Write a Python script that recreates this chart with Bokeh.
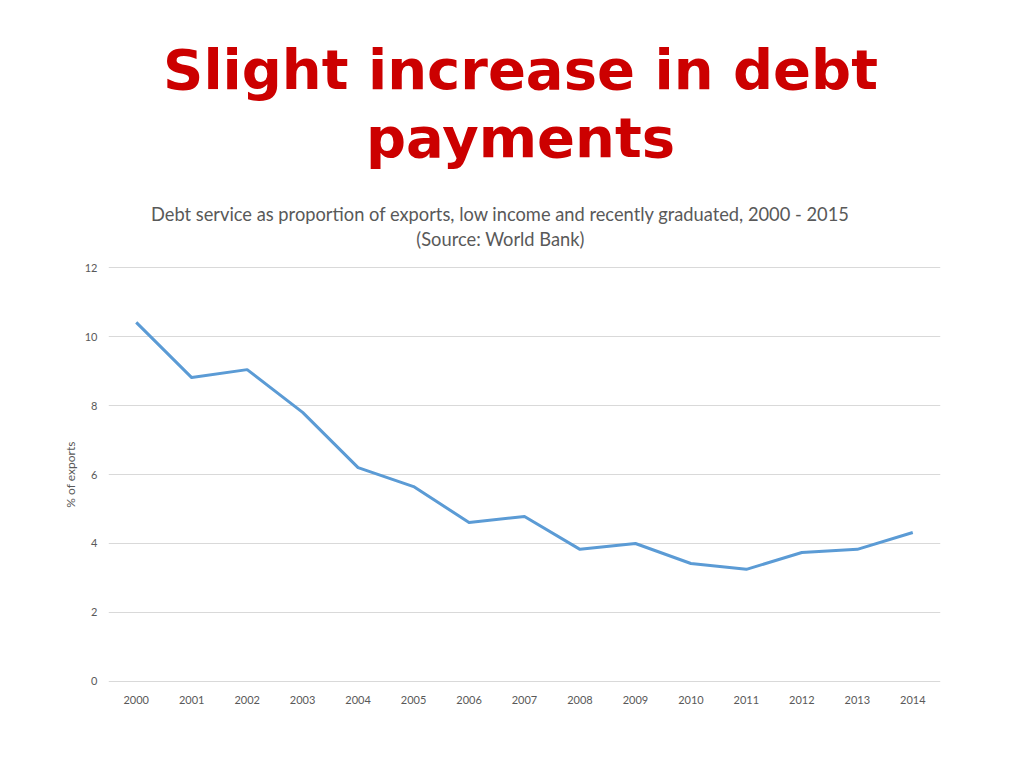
from bokeh.plotting import figure
from bokeh.models import FactorRange, Range1d, FixedTicker
from bokeh.layouts import column
from bokeh.core.properties import value
from bokeh.embed import file_html
from bokeh.resources import INLINE

years = ["2000", "2001", "2002", "2003", "2004", "2005", "2006", "2007",
         "2008", "2009", "2010", "2011", "2012", "2013", "2014"]
debt_service = [10.41, 8.81, 9.04, 7.80, 6.20, 5.65, 4.61, 4.78,
                3.83, 4.00, 3.42, 3.25, 3.74, 3.83, 4.32]
y_ticks = [0, 2, 4, 6, 8, 10, 12]

title_lines = ["Slight increase in debt", "payments"]
subtitle_lines = ["Debt service as proportion of exports, low income and recently graduated, 2000 - 2015",
                  "(Source: World Bank)"]
y_label = "% of exports"

W = 1016
TOP_H = 255
FRAME_L, FRAME_R = 108, 940
grey = "#595959"

# ---- heading panel: its frame is aligned with the chart frame by the column,
# so the x range is set to page pixels of that frame; y grows downward ----
head = figure(width=W, height=TOP_H, x_range=Range1d(FRAME_L, FRAME_R),
              y_range=Range1d(TOP_H, 0),
              x_axis_type=None, y_axis_type=None, output_backend="svg",
              toolbar_location=None, min_border_left=0, min_border_right=0,
              min_border_top=0, min_border_bottom=0)
head.title.visible = False
head.outline_line_color = None
head.grid.grid_line_color = None
head.text(x=[520, 520], y=[69, 137], text=title_lines, text_align="center",
          text_baseline="alphabetic", text_font=value("DejaVu Sans"),
          text_font_style="bold", text_font_size="56px", text_color="#CC0000")
head.text(x=[500, 500], y=[213, 238], text=subtitle_lines, text_align="center",
          text_baseline="alphabetic", text_font=value("Lato"),
          text_font_size="18.3px", text_color=grey)

# ---- chart ----
p = figure(width=W, height=505, x_range=FactorRange(*years, range_padding=0),
           y_range=Range1d(-0.03, 12.03), output_backend="svg", toolbar_location=None,
           min_border_left=FRAME_L, min_border_right=W - FRAME_R, min_border_top=11,
           min_border_bottom=78)
p.outline_line_color = None
p.line(years, debt_service, line_color="#5B9BD5", line_width=3, line_join="round")
for ax in (p.xaxis, p.yaxis):
    ax.axis_line_color = None
    ax.major_tick_line_color = None
    ax.minor_tick_line_color = None
    ax.major_label_text_color = grey
    ax.major_label_text_font = "Lato"
    ax.major_label_text_font_size = "11px"
p.xaxis.major_label_standoff = 7
p.yaxis.major_label_standoff = 5
p.yaxis.ticker = FixedTicker(ticks=y_ticks)
p.yaxis.axis_label = y_label
p.yaxis.axis_label_text_font = "Lato"
p.yaxis.axis_label_text_font_style = "normal"
p.yaxis.axis_label_text_font_size = "12px"
p.yaxis.axis_label_text_color = grey
p.yaxis.axis_label_standoff = 4
p.xgrid.grid_line_color = None
p.ygrid.grid_line_color = "#D9D9D9"

layout = column(head, p, spacing=0)
open("out.html", "w").write(file_html(layout, INLINE))
